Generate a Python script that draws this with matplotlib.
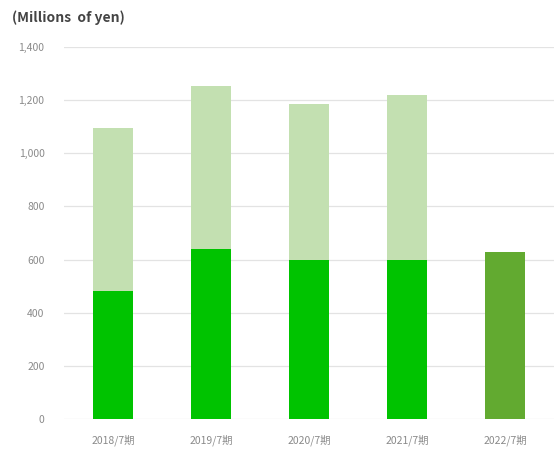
import numpy as np
import matplotlib

matplotlib.use("Agg")
import matplotlib.pyplot as plt

plt.rcParams["font.family"] = ["Noto Sans CJK JP", "DejaVu Sans"]

periods = ["2018/7期", "2019/7期", "2020/7期", "2021/7期", "2022/7期"]
full_year = [1095, 1255, 1185, 1220, 0]
first_half = [480, 638, 597, 600, 630]
half_colors = ["#00c300", "#00c300", "#00c300", "#00c300", "#62aa30"]
yticks = [0, 200, 400, 600, 800, 1000, 1200, 1400]

fig = plt.figure(figsize=(5.55, 4.65), dpi=100)
ax = fig.add_axes([0.1153, 0.0989, 0.883, 0.8])

x = np.arange(len(periods))
ax.bar(x, full_year, width=0.4, color="#c3e0b1", zorder=2)
ax.bar(x, first_half, width=0.4, color=half_colors, zorder=3)

ax.set_xlim(-0.5, len(periods) - 0.5)
ax.set_ylim(0, 1400)
ax.set_yticks(yticks)
ax.set_yticklabels([f"{v:,}" for v in yticks])
ax.set_xticks(x)
ax.set_xticklabels(periods)
ax.grid(axis="y", color="#e3e3e3", linewidth=0.9, zorder=0)
for s in ax.spines.values():
    s.set_visible(False)
ax.tick_params(axis="both", length=0, labelsize=7.5, labelcolor="#8a8a8a")
ax.tick_params(axis="y", pad=14)
ax.tick_params(axis="x", pad=11)

# chart unit label, top left
fig.text(0.022, 0.962, "(Millions  of yen)", fontsize=10, fontweight="bold",
         color="#444444", ha="left", va="center")

fig.savefig("out.png", dpi=100)
